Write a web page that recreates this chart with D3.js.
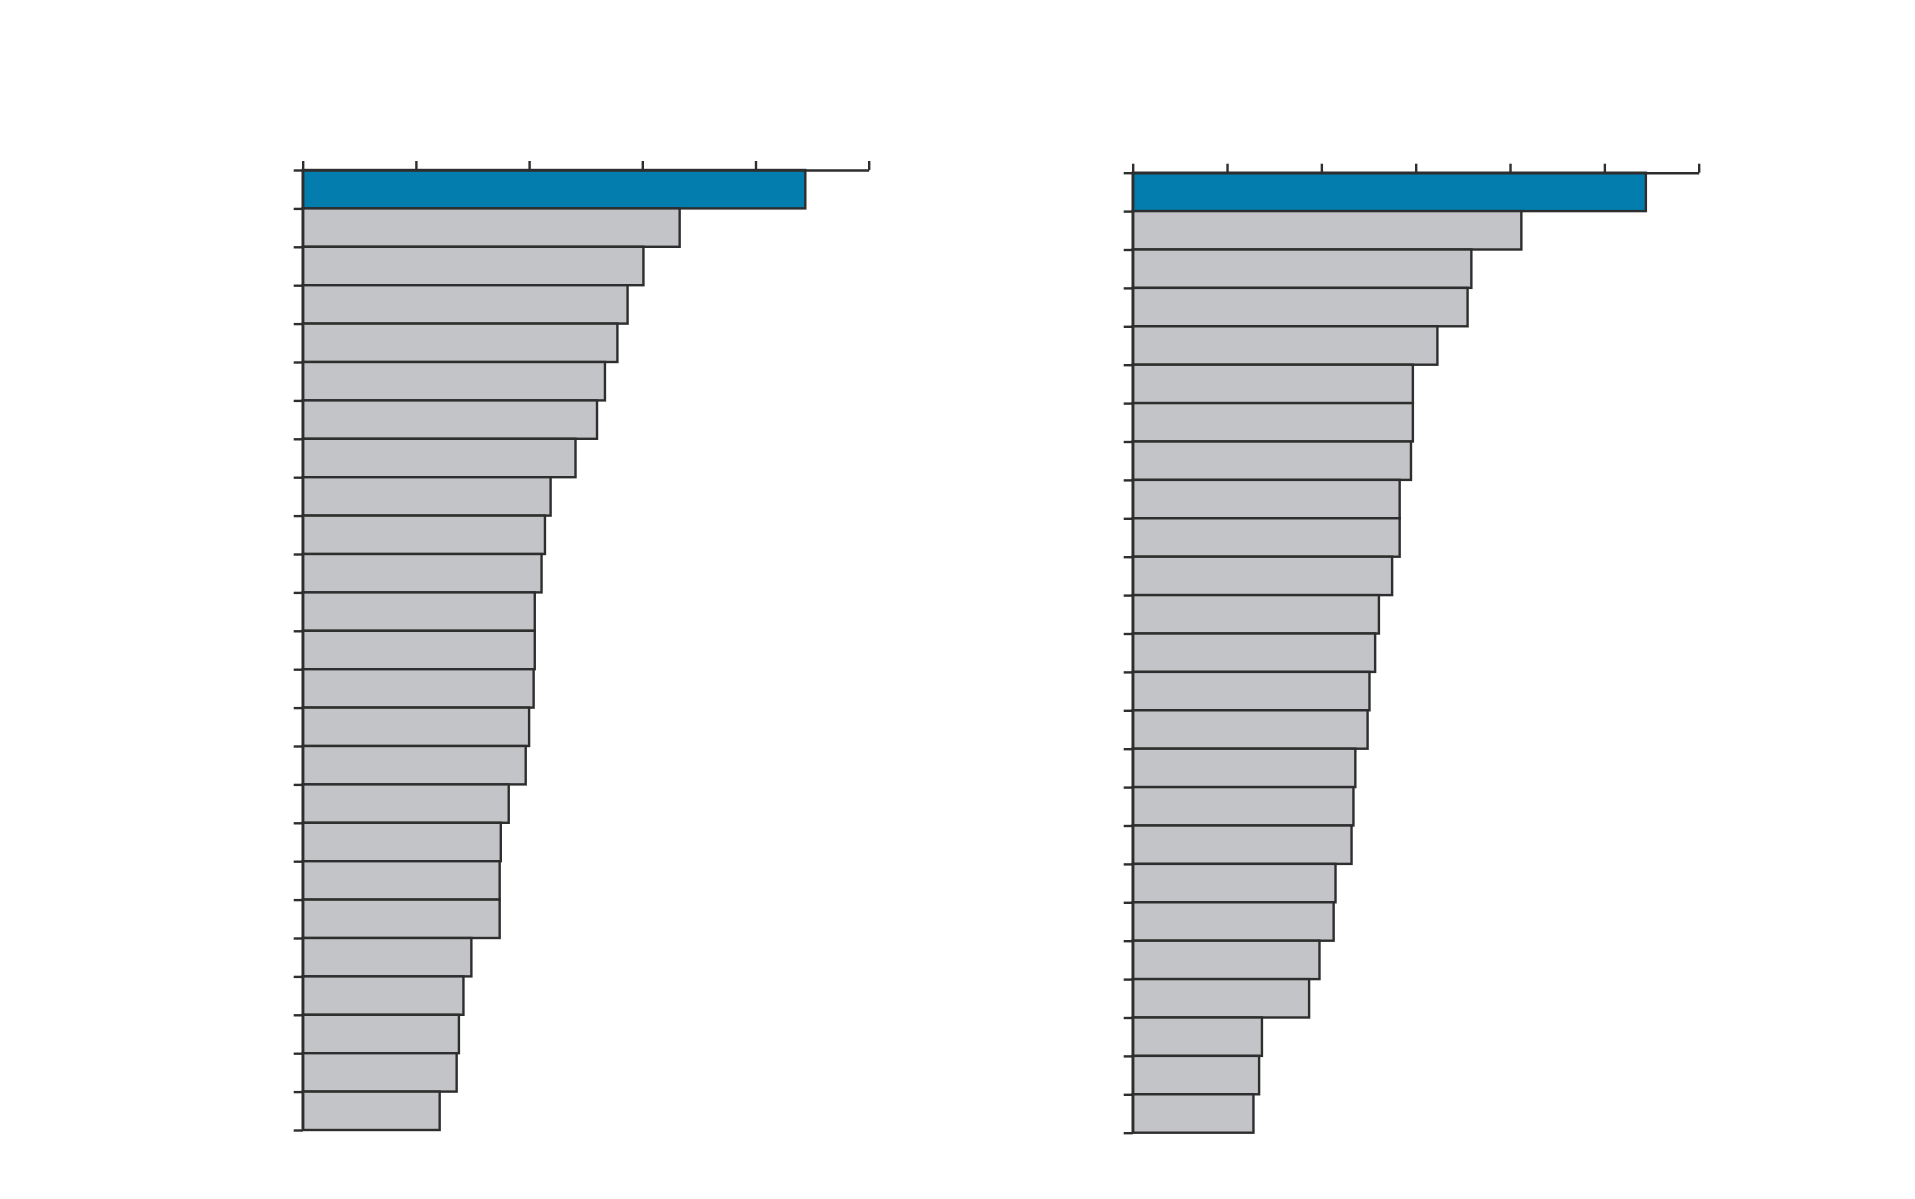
<!DOCTYPE html>
<html>
<head>
<meta charset="utf-8">
<script src="https://cdn.jsdelivr.net/npm/d3@7"></script>
<style>
  body { margin: 0; background: #fff; }
  svg { display: block; }
</style>
</head>
<body>
<div id="chart"></div>
<script>
// ranks 1..25, no labels printed in the original
var categories = d3.range(1, 26).map(String);

var leftValues = [44.4, 33.3, 30.1, 28.7, 27.8, 26.7, 26.0, 24.1, 21.9, 21.4,
  21.1, 20.5, 20.5, 20.4, 20.0, 19.7, 18.2, 17.5, 17.4, 17.4,
  14.9, 14.2, 13.8, 13.6, 12.1];
var rightValues = [5.44, 4.12, 3.59, 3.55, 3.23, 2.97, 2.97, 2.95, 2.83, 2.83,
  2.75, 2.61, 2.57, 2.51, 2.49, 2.36, 2.34, 2.32, 2.15, 2.13,
  1.98, 1.87, 1.37, 1.34, 1.28];
var leftTicks = [0, 10, 20, 30, 40, 50];
var rightTicks = [0, 1, 2, 3, 4, 5, 6];
var highlight = 0; // first bar is blue

var width = 1915, height = 1199;

var svg = d3.select("#chart").append("svg")
  .attr("width", width)
  .attr("height", height);

function panel(x0, y0, values, ticks) {
  var x = d3.scaleLinear()
    .domain([0, d3.max(ticks)])
    .range([x0, x0 + 566]);
  var y = d3.scaleBand()
    .domain(categories)
    .range([y0, y0 + 960])
    .padding(0);

  var g = svg.append("g");

  g.selectAll(".bar")
    .data(values)
    .enter().append("rect")
    .attr("class", "bar")
    .attr("x", x(0))
    .attr("y", (d, i) => y(categories[i]))
    .attr("width", d => x(d) - x(0))
    .attr("height", y.bandwidth())
    .attr("fill", (d, i) => i == highlight ? "#027dae" : "#c3c4c7")
    .attr("stroke", "#2e2e2e")
    .attr("stroke-width", 2.4);

  // top axis
  var xAxis = d3.axisTop(x)
    .tickValues(ticks)
    .tickSize(9)
    .tickSizeOuter(0)
    .tickFormat("");
  g.append("g")
    .attr("transform", "translate(0," + y0 + ")")
    .call(xAxis);

  // left axis, one tick per bar edge
  var edge = d3.scaleLinear().domain([0, categories.length]).range([y0, y0 + 960]);
  var yAxis = d3.axisLeft(edge)
    .tickValues(d3.range(0, categories.length + 1))
    .tickSize(9)
    .tickSizeOuter(0)
    .tickFormat("");
  g.append("g")
    .attr("transform", "translate(" + x0 + ",0)")
    .call(yAxis);

  g.selectAll(".domain, .tick line")
    .attr("stroke", "#2e2e2e")
    .attr("stroke-width", 2.4);
}

panel(302.7, 170, leftValues, leftTicks);
panel(1132.7, 172.7, rightValues, rightTicks);
</script>
</body>
</html>
